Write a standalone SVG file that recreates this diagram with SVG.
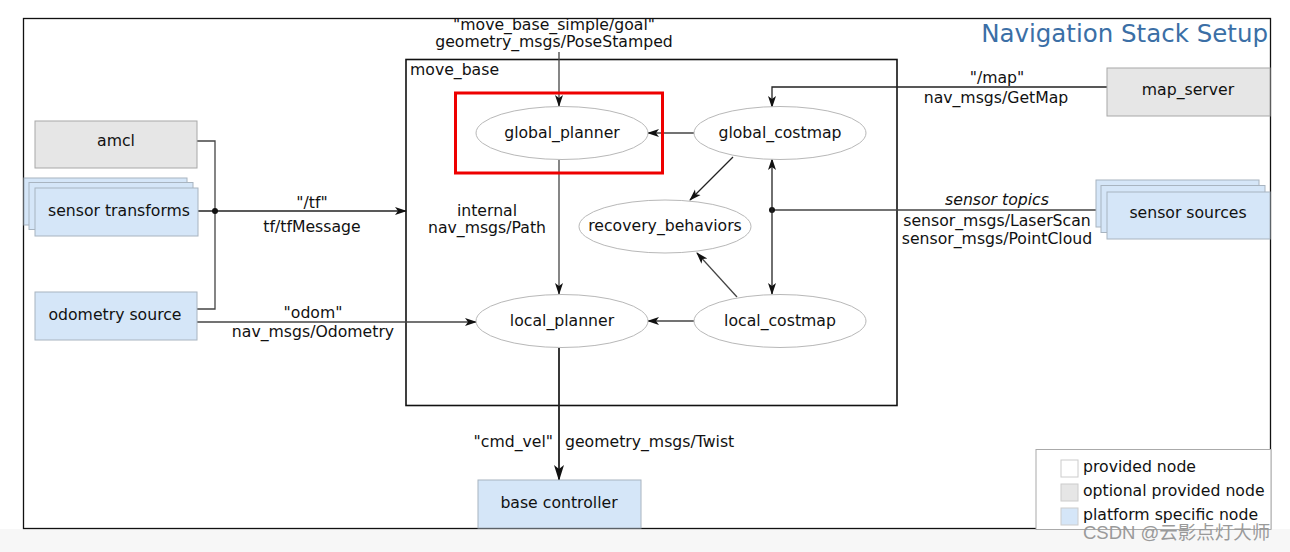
<svg xmlns="http://www.w3.org/2000/svg" width="1290" height="552" viewBox="0 0 1290 552">
<defs>
<style>
text{font-family:"DejaVu Sans","Liberation Sans",sans-serif;font-size:15.7px;fill:#111}
.c{text-anchor:middle}
.opt{fill:#e6e6e6;stroke:#a8a8a8;stroke-width:1}
.plat{fill:#d5e6f8;stroke:#a8b4c0;stroke-width:1}
.ell{fill:#fff;stroke:#b8b8b8;stroke-width:1}
.ln{fill:none;stroke:#222;stroke-width:1.3}
</style>
<marker id="ah" markerWidth="12" markerHeight="10" refX="11" refY="5" orient="auto" markerUnits="userSpaceOnUse">
<path d="M0,1 L12,5 L0,9 L3,5 z" fill="#111"/>
</marker>
<marker id="ahb" markerWidth="16" markerHeight="12" refX="15" refY="6" orient="auto" markerUnits="userSpaceOnUse">
<path d="M0,1 L16,6 L0,11 L4,6 z" fill="#111"/>
</marker>
</defs>
<rect x="0" y="0" width="1290" height="552" fill="#fff"/>
<rect x="0" y="529" width="1290" height="23" fill="#f7f7f7"/>
<rect x="23.5" y="18.5" width="1247" height="510" fill="#fff" stroke="#111" stroke-width="1.3"/>
<text x="1268" y="42" style="font-size:24.5px;fill:#3b6fa6;text-anchor:end">Navigation Stack Setup</text>

<g id="move_base">
<rect x="406" y="59.5" width="491" height="346" fill="none" stroke="#111" stroke-width="1.6"/>
<text x="410" y="75">move_base</text>
</g>

<g id="connectors">
<path class="ln" d="M197,141 H215 V309 H197" style="stroke:#444"/>
<path class="ln" d="M197,211 H406" marker-end="url(#ah)"/>
<circle cx="215" cy="211" r="3" fill="#111"/>
<path class="ln" d="M197,322 H476" style="stroke:#444" marker-end="url(#ah)"/>
<path class="ln" d="M559,52 V106" style="stroke:#444" marker-end="url(#ah)"/>
<path class="ln" d="M694,133 H648" style="stroke:#444" marker-end="url(#ah)"/>
<path class="ln" d="M1107,87 H772 V107" marker-end="url(#ah)"/>
<path class="ln" d="M1096,210 H772" style="stroke:#444"/>
<circle cx="772" cy="210" r="3" fill="#111"/>
<path class="ln" d="M772,210 V159" marker-end="url(#ah)"/>
<path class="ln" d="M772,210 V294" marker-end="url(#ah)"/>
<path class="ln" d="M733,157 L690,200" marker-end="url(#ah)"/>
<path class="ln" d="M737,297 L697,253" style="stroke:#444" marker-end="url(#ah)"/>
<path class="ln" d="M694,321 H648" style="stroke:#444" marker-end="url(#ah)"/>
<path class="ln" d="M559,160 V294" style="stroke:#444" marker-end="url(#ah)"/>
<path class="ln" d="M559,348 V480" style="stroke-width:1.8" marker-end="url(#ahb)"/>
<text class="c" x="312" y="208">"/tf"</text>
<text class="c" x="312" y="232">tf/tfMessage</text>
<text class="c" x="313" y="318">"odom"</text>
<text class="c" x="313" y="337">nav_msgs/Odometry</text>
<text class="c" x="554" y="30">"move_base_simple/goal"</text>
<text class="c" x="554" y="47">geometry_msgs/PoseStamped</text>
<text class="c" x="487" y="216">internal</text>
<text class="c" x="487" y="233">nav_msgs/Path</text>
<text class="c" x="997" y="83">"/map"</text>
<text class="c" x="996" y="103">nav_msgs/GetMap</text>
<text class="c" x="997" y="205" style="font-style:italic">sensor topics</text>
<text class="c" x="997" y="226">sensor_msgs/LaserScan</text>
<text class="c" x="997" y="244">sensor_msgs/PointCloud</text>
<text x="553" y="447" style="text-anchor:end">"cmd_vel"</text>
<text x="565" y="447">geometry_msgs/Twist</text>
</g>

<g id="amcl">
<rect class="opt" x="35" y="121" width="162" height="47"/>
<text class="c" x="116" y="146">amcl</text>
</g>
<g id="sensor_transforms">
<rect class="plat" x="24" y="178" width="163" height="47"/>
<rect class="plat" x="29" y="182.5" width="164" height="47"/>
<rect class="plat" x="35" y="188" width="163" height="48"/>
<text class="c" x="119" y="216">sensor transforms</text>
</g>
<g id="odometry_source">
<rect class="plat" x="35" y="292" width="162" height="48"/>
<text class="c" x="115" y="320">odometry source</text>
</g>
<g id="global_planner">
<ellipse class="ell" cx="562" cy="133" rx="86" ry="26.5"/>
<text class="c" x="562" y="138">global_planner</text>
</g>
<g id="global_costmap">
<ellipse class="ell" cx="780" cy="133" rx="86" ry="26.5"/>
<text class="c" x="780" y="138">global_costmap</text>
</g>
<g id="recovery_behaviors">
<ellipse class="ell" cx="665" cy="226.5" rx="86" ry="26.5"/>
<text class="c" x="665" y="231">recovery_behaviors</text>
</g>
<g id="local_planner">
<ellipse class="ell" cx="562" cy="321" rx="86" ry="26.5"/>
<text class="c" x="562" y="326">local_planner</text>
</g>
<g id="local_costmap">
<ellipse class="ell" cx="780" cy="321" rx="86" ry="26.5"/>
<text class="c" x="780" y="326">local_costmap</text>
</g>
<g id="map_server">
<rect class="opt" x="1107" y="68" width="163" height="48"/>
<text class="c" x="1188" y="95">map_server</text>
</g>
<g id="sensor_sources">
<rect class="plat" x="1096" y="180" width="163" height="47"/>
<rect class="plat" x="1101" y="185.5" width="164" height="47"/>
<rect class="plat" x="1107" y="192" width="163" height="47"/>
<text class="c" x="1188" y="218">sensor sources</text>
</g>
<g id="base_controller">
<rect class="plat" x="478" y="480" width="163" height="48"/>
<text class="c" x="559" y="508">base controller</text>
</g>
<g id="highlight">
<rect x="455.5" y="93" width="207" height="80" fill="none" stroke="#e00" stroke-width="3"/>
</g>
<g id="legend">
<rect x="1036" y="449.5" width="235" height="80" fill="#fff" stroke="#aaa" stroke-width="1"/>
<rect x="1061" y="460" width="17" height="17" fill="#fff" stroke="#ccc"/>
<rect x="1061" y="484" width="17" height="17" fill="#e6e6e6" stroke="#ccc"/>
<rect x="1061" y="508" width="17" height="17" fill="#d5e6f8" stroke="#ccc"/>
<text x="1083" y="472">provided node</text>
<text x="1083" y="496">optional provided node</text>
<text x="1083" y="520">platform specific node</text>
</g>
<text x="1083" y="539" style="font-family:'Liberation Sans','Noto Sans CJK SC',sans-serif;font-size:18.5px;fill:#9a9a9a">CSDN @云影点灯大师</text>
</svg>
